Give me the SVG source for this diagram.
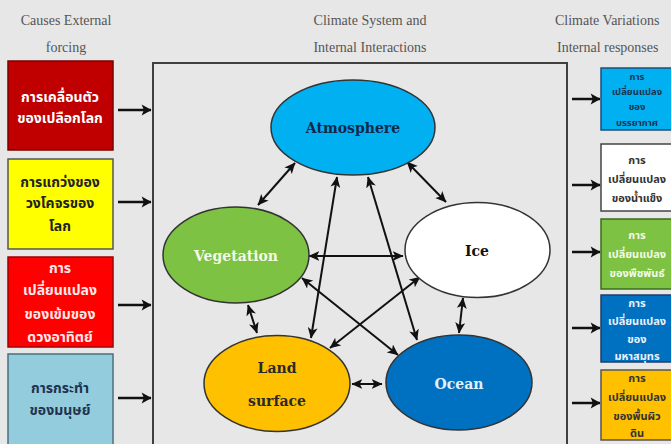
<svg xmlns="http://www.w3.org/2000/svg" width="671" height="444" viewBox="0 0 671 444">
<style>
.hdr{font-family:"Liberation Serif","DejaVu Serif",serif;font-size:14px;fill:#555;text-anchor:middle}
.th{font-family:"Noto Sans Thai","Noto Sans","DejaVu Sans",sans-serif;font-weight:bold;text-anchor:middle}
.lt{font-size:14px}
.rt{font-size:11px}
.rs{font-size:9.5px}
.lbl{font-family:"DejaVu Serif","Liberation Serif",serif;font-weight:bold;font-size:14px;text-anchor:middle}
.box{stroke-width:1.5}
.ell{stroke:#333;stroke-width:1.5}
.con{stroke:#111;stroke-width:2;fill:none;marker-start:url(#ah);marker-end:url(#ah)}
.io{stroke:#111;stroke-width:2.5;fill:none;marker-end:url(#bh)}
</style>
<defs>
<marker id="ah" viewBox="0 0 10 10" refX="9.5" refY="5" markerWidth="11" markerHeight="11" markerUnits="userSpaceOnUse" orient="auto-start-reverse">
<path d="M0,0.5 L10,5 L0,9.5 L2.5,5 z" fill="#111"/>
</marker>
<marker id="bh" viewBox="0 0 10 10" refX="9.5" refY="5" markerWidth="11" markerHeight="13" markerUnits="userSpaceOnUse" orient="auto">
<path d="M1,0 L10,5 L1,10 L3,5 z" fill="#111"/>
</marker>
</defs>
<rect width="671" height="444" fill="#e7e7e7"/>

<g id="headers">
<text class="hdr" x="66" y="25">Causes External</text>
<text class="hdr" x="66" y="52">forcing</text>
<text class="hdr" x="370" y="25">Climate System and</text>
<text class="hdr" x="370" y="52">Internal Interactions</text>
<text class="hdr" x="555" y="25" style="text-anchor:start">Climate Variations</text>
<text class="hdr" x="557" y="52" style="text-anchor:start">Internal responses</text>
</g>

<g id="frame"><rect x="153" y="63" width="414" height="400" fill="none" stroke="#404040" stroke-width="2"/></g>

<g id="cause1">
<rect class="box" x="8" y="61" width="105" height="89" fill="#c00000" stroke="#7a0000"/>
<text class="th lt" x="60" y="102" fill="#fff">การเคลื่อนตัว</text>
<text class="th lt" x="60" y="123" fill="#fff">ของเปลือกโลก</text>
</g>
<g id="cause2">
<rect class="box" x="8" y="159" width="105" height="90" fill="#ffff00" stroke="#555"/>
<text class="th lt" x="60" y="187" fill="#222">การแกว่งของ</text>
<text class="th lt" x="60" y="208" fill="#222">วงโคจรของ</text>
<text class="th lt" x="60" y="231" fill="#222">โลก</text>
</g>
<g id="cause3">
<rect class="box" x="8" y="257" width="105" height="90" fill="#ff0000" stroke="#a00000"/>
<text class="th lt" x="60" y="273" fill="#ffe8e8">การ</text>
<text class="th lt" x="60" y="295" fill="#ffe8e8">เปลี่ยนแปลง</text>
<text class="th lt" x="60" y="319" fill="#ffe8e8">ของเข้มของ</text>
<text class="th lt" x="60" y="342" fill="#ffe8e8">ดวงอาทิตย์</text>
</g>
<g id="cause4">
<rect class="box" x="8" y="354" width="105" height="95" fill="#93cddd" stroke="#4b6f7c"/>
<text class="th lt" x="60" y="393" fill="#1f3350">การกระทำ</text>
<text class="th lt" x="60" y="415" fill="#1f3350">ของมนุษย์</text>
</g>

<g id="resp1">
<rect class="box" x="601" y="68" width="74" height="62" fill="#00b0f0" stroke="#1f4e79"/>
<text class="th rs" x="637" y="80" fill="#1f3350">การ</text>
<text class="th rs" x="637" y="95" fill="#1f3350">เปลี่ยนแปลง</text>
<text class="th rs" x="637" y="110" fill="#1f3350">ของ</text>
<text class="th rs" x="637" y="126" fill="#1f3350">บรรยากาศ</text>
</g>
<g id="resp2">
<rect class="box" x="601" y="144" width="74" height="67" fill="#ffffff" stroke="#444"/>
<text class="th rt" x="637" y="164" fill="#333">การ</text>
<text class="th rt" x="637" y="183" fill="#333">เปลี่ยนแปลง</text>
<text class="th rt" x="637" y="202" fill="#333">ของน้ำแข็ง</text>
</g>
<g id="resp3">
<rect class="box" x="601" y="219" width="74" height="70" fill="#7dc242" stroke="#3d6b1f"/>
<text class="th rt" x="637" y="239" fill="#f4fbe8">การ</text>
<text class="th rt" x="637" y="258" fill="#f4fbe8">เปลี่ยนแปลง</text>
<text class="th rt" x="637" y="277" fill="#f4fbe8">ของพืชพันธ์</text>
</g>
<g id="resp4">
<rect class="box" x="601" y="295" width="74" height="67" fill="#0070c0" stroke="#1f3e66"/>
<text class="th rt" x="637" y="307" fill="#eaf2fb">การ</text>
<text class="th rt" x="637" y="325" fill="#eaf2fb">เปลี่ยนแปลง</text>
<text class="th rt" x="637" y="343" fill="#eaf2fb">ของ</text>
<text class="th rt" x="637" y="360" fill="#eaf2fb">มหาสมุทร</text>
</g>
<g id="resp5">
<rect class="box" x="601" y="370" width="74" height="70" fill="#ffc000" stroke="#555"/>
<text class="th rt" x="637" y="382" fill="#333">การ</text>
<text class="th rt" x="637" y="401" fill="#333">เปลี่ยนแปลง</text>
<text class="th rt" x="637" y="420" fill="#333">ของพื้นผิว</text>
<text class="th rt" x="637" y="437" fill="#333">ดิน</text>
</g>

<g id="connectors">
<line class="io" x1="118" y1="110" x2="151" y2="110"/>
<line class="io" x1="118" y1="202" x2="151" y2="202"/>
<line class="io" x1="118" y1="305" x2="151" y2="305"/>
<line class="io" x1="118" y1="398" x2="151" y2="398"/>
<line class="io" x1="572" y1="99" x2="600" y2="99"/>
<line class="io" x1="572" y1="185" x2="600" y2="185"/>
<line class="io" x1="572" y1="252" x2="600" y2="252"/>
<line class="io" x1="572" y1="328" x2="600" y2="328"/>
<line class="io" x1="572" y1="403" x2="600" y2="403"/>
<line class="con" x1="295" y1="163" x2="258" y2="205"/>
<line class="con" x1="407" y1="162" x2="446" y2="202"/>
<line class="con" x1="309" y1="256" x2="403" y2="256"/>
<line class="con" x1="248" y1="305" x2="257" y2="333"/>
<line class="con" x1="463" y1="298" x2="459" y2="333"/>
<line class="con" x1="352" y1="384" x2="382" y2="384"/>
<line class="con" x1="311" y1="338" x2="337" y2="177"/>
<line class="con" x1="417" y1="340" x2="368" y2="177"/>
<line class="con" x1="302" y1="278" x2="398" y2="355"/>
<line class="con" x1="420" y1="277" x2="330" y2="348"/>
</g>

<g id="atmosphere">
<ellipse class="ell" cx="353" cy="127.5" rx="82" ry="47.5" fill="#00b0f0"/>
<text class="lbl" x="353" y="133" fill="#13294b">Atmosphere</text>
</g>
<g id="ice">
<ellipse class="ell" cx="477.5" cy="250" rx="72.5" ry="47.5" fill="#ffffff"/>
<text class="lbl" x="477" y="256" fill="#111">Ice</text>
</g>
<g id="vegetation">
<ellipse class="ell" cx="236" cy="255" rx="73" ry="48" fill="#7dc242"/>
<text class="lbl" x="236" y="261" fill="#f2f9e6">Vegetation</text>
</g>
<g id="land">
<ellipse class="ell" cx="277" cy="383.5" rx="73" ry="48" fill="#ffc000"/>
<text class="lbl" x="277" y="373" fill="#2a2a2a">Land</text>
<text class="lbl" x="277" y="406" fill="#2a2a2a">surface</text>
</g>
<g id="ocean">
<ellipse class="ell" cx="459" cy="382.5" rx="73" ry="47.5" fill="#0070c0"/>
<text class="lbl" x="459" y="389" fill="#e3f0ff">Ocean</text>
</g>
</svg>
